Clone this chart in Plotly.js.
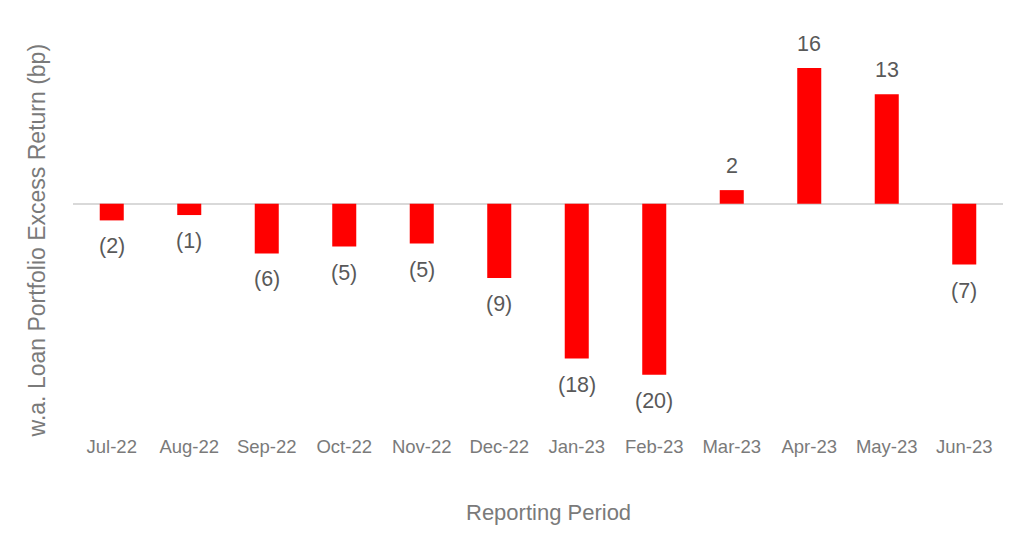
<!DOCTYPE html>
<html>
<head>
<meta charset="utf-8">
<script src="https://cdn.plot.ly/plotly-3.0.1.min.js"></script>
<style>html,body{margin:0;padding:0;background:#fff;}#chart{width:1024px;height:534px;}</style>
</head>
<body>
<div id="chart"></div>
<script>
const categories = ["Jul-22","Aug-22","Sep-22","Oct-22","Nov-22","Dec-22","Jan-23","Feb-23","Mar-23","Apr-23","May-23","Jun-23"];
const excessReturn = [-1.96,-1.33,-5.84,-5.04,-4.68,-8.73,-18.2,-20.1,1.6,15.96,12.86,-7.15];
const xTitle = "Reporting Period";
const yTitle = "w.a. Loan Portfolio Excess Return (bp)";

function fmt(v){
  const r = Math.round(Math.abs(v));
  return v < 0 ? "(" + r + ")" : String(r);
}

const labelAnnotations = categories.map((c, i) => {
  const v = excessReturn[i];
  return {
    x: c, y: v, xref: "x", yref: "y",
    text: fmt(v), showarrow: false,
    yanchor: v < 0 ? "top" : "bottom",
    yshift: v < 0 ? -12 : 10,
    font: {family: "Liberation Sans, Arial, sans-serif", size: 21.5, color: "#595959"}
  };
});

const trace = {
  type: "bar",
  x: categories,
  y: excessReturn,
  marker: {color: "#ff0000", line: {color: "#ff0000", width: 0}},
  width: 0.31,
  hoverinfo: "x+y"
};

const layout = {
  width: 1024, height: 534,
  margin: {l: 73, r: 21, t: 20, b: 104},
  paper_bgcolor: "#ffffff",
  plot_bgcolor: "#ffffff",
  showlegend: false,
  font: {family: "Liberation Sans, Arial, sans-serif", color: "#7f7f7f"},
  xaxis: {
    type: "category",
    showgrid: false, showline: false, zeroline: false,
    ticks: "",
    ticklabelstandoff: 3,
    tickfont: {size: 18.5, color: "#7a7a7a"},
    range: [-0.5, 11.5]
  },
  yaxis: {
    range: [-26.6, 21.6],
    showgrid: false, showline: false,
    showticklabels: false, ticks: "",
    zeroline: true, zerolinecolor: "#d9d9d9", zerolinewidth: 2
  },
  annotations: labelAnnotations.concat([
    {text: xTitle, xref: "paper", yref: "paper", x: 0.511, y: -0.2, yanchor: "middle",
     xanchor: "center", showarrow: false,
     font: {size: 22, color: "#7a7a7a"}},
    {text: yTitle, xref: "paper", yref: "paper", x: -0.0387, y: 0.46, textangle: -90,
     xanchor: "center", yanchor: "middle", showarrow: false,
     font: {size: 23, color: "#7a7a7a"}}
  ])
};

Plotly.newPlot("chart", [trace], layout, {displayModeBar: false, staticPlot: true});
</script>
</body>
</html>
